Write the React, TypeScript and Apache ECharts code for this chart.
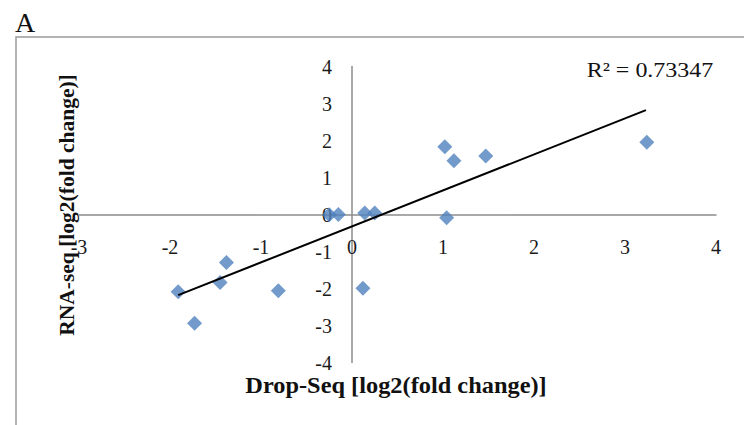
import React, { useEffect, useRef } from "react";
import * as echarts from "echarts";

// Drop-Seq vs RNA-seq log2 fold change
const dropSeqX = [-1.91, -1.73, -1.38, -1.45, -0.81, 0.12, -0.25, -0.15, 0.14, 0.25, 1.02, 1.12, 1.47, 1.04, 3.24];
const rnaSeqY = [-2.09, -2.94, -1.3, -1.84, -2.06, -1.99, -0.01, 0.0, 0.04, 0.04, 1.83, 1.45, 1.58, -0.09, 1.95];
// linear trendline end points
const trendX = [-1.91, 3.23];
const trendY = [-2.18, 2.82];
const xRange = [-3, 4];
const yRange = [-4, 4];
const rSquaredLabel = "R² = 0.73347";
const panelLabel = "A";
const xTitle = "Drop-Seq [log2(fold change)]";
const yTitle = "RNA-seq [log2(fold change)]";

const SERIF = "'Liberation Serif', 'DejaVu Serif', serif";

export default function App() {
  const ref = useRef<HTMLDivElement>(null);
  useEffect(() => {
    if (!ref.current) return;
    const chart = echarts.init(ref.current, undefined, { renderer: "svg" });
    const points = dropSeqX.map((x, i) => [x, rnaSeqY[i]]);
    const trend = trendX.map((x, i) => [x, trendY[i]]);
    chart.setOption({
      animation: false,
      backgroundColor: "#ffffff",
      grid: { left: 79, right: 28, top: 66.5, bottom: 62.5, containLabel: false },
      xAxis: {
        type: "value",
        min: xRange[0],
        max: xRange[1],
        interval: 1,
        axisLine: { onZero: false, lineStyle: { color: "#8c8c8c", width: 1.5 } },
        axisTick: { show: false },
        splitLine: { show: false },
        axisLabel: { margin: 22, fontSize: 20, color: "#1a1a1a", fontFamily: SERIF },
      },
      yAxis: {
        type: "value",
        min: yRange[0],
        max: yRange[1],
        interval: 1,
        axisLine: { onZero: false, lineStyle: { color: "#8c8c8c", width: 1.5 } },
        axisTick: { show: false },
        splitLine: { show: false },
        axisLabel: { margin: 20, fontSize: 20, color: "#1a1a1a", fontFamily: SERIF },
      },
      series: [
        {
          type: "scatter",
          data: points,
          symbol: "diamond",
          symbolSize: 15,
          itemStyle: { color: "#4F81BD" },
          z: 2,
        },
        {
          type: "line",
          data: trend,
          showSymbol: false,
          symbol: "none",
          lineStyle: { color: "#000000", width: 2 },
          z: 3,
        },
      ],
      graphic: [
        {
          type: "polyline",
          shape: { points: [[16, 425], [16, 37], [744, 37]] },
          style: { stroke: "#9a9a9a", lineWidth: 1.5, fill: null },
          silent: true,
        },
        {
          type: "text",
          x: 15,
          y: 22,
          style: { text: panelLabel, fontSize: 28, fontFamily: SERIF, fill: "#111", textVerticalAlign: "middle" },
        },
        {
          type: "text",
          x: 650,
          y: 69,
          scaleX: 1.09,
          style: {
            text: rSquaredLabel,
            fontSize: 22,
            fontFamily: SERIF,
            fill: "#111",
            textAlign: "center",
            textVerticalAlign: "middle",
          },
        },
        {
          type: "text",
          x: 396,
          y: 385,
          scaleX: 1.06,
          style: {
            text: xTitle,
            fontSize: 23,
            fontWeight: "bold",
            fontFamily: SERIF,
            fill: "#111",
            textAlign: "center",
            textVerticalAlign: "middle",
          },
        },
        {
          type: "text",
          x: 67,
          y: 205,
          rotation: Math.PI / 2,
          style: {
            text: yTitle,
            fontSize: 21.5,
            fontWeight: "bold",
            fontFamily: SERIF,
            fill: "#111",
            textAlign: "center",
            textVerticalAlign: "middle",
          },
        },
      ],
    });
    // move both axes (line + labels) onto the origin, using the library's own scales
    const zero = chart.convertToPixel({ gridIndex: 0 }, [0, 0]) as number[];
    const corner = chart.convertToPixel({ gridIndex: 0 }, [xRange[0], yRange[0]]) as number[];
    chart.setOption({
      xAxis: { offset: -(corner[1] - zero[1]) },
      yAxis: { offset: -(zero[0] - corner[0]) },
    });
    return () => chart.dispose();
  }, []);
  return (
    <div
      ref={ref}
      style={{ position: "absolute", left: 0, top: 0, width: 744, height: 425 }}
    />
  );
}
